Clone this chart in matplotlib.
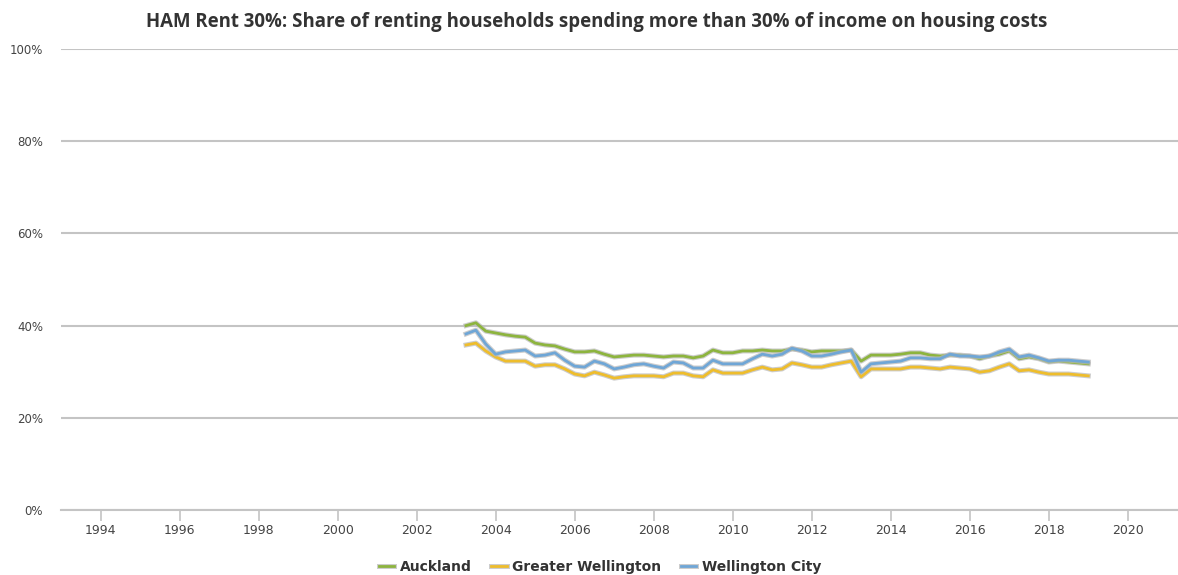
import numpy as np
import matplotlib.pyplot as plt
import matplotlib.patheffects as pe
from matplotlib.ticker import FixedLocator

# Quarterly observations, 2003 Q2 through 2019 Q1
start_year = 2003.25
auckland = [40.0, 40.6, 38.8, 38.4, 38.0, 37.7, 37.5, 36.2, 35.8, 35.6, 34.9, 34.3,
            34.3, 34.5, 33.8, 33.2, 33.4, 33.6, 33.6, 33.4, 33.2, 33.4, 33.4, 33.0,
            33.4, 34.7, 34.1, 34.1, 34.5, 34.5, 34.7, 34.5, 34.5, 34.9, 34.7, 34.3,
            34.5, 34.5, 34.5, 34.7, 32.3, 33.6, 33.6, 33.6, 33.8, 34.1, 34.1, 33.6,
            33.4, 33.6, 33.6, 33.4, 32.8, 33.4, 33.8, 34.5, 32.8, 33.2, 32.8, 32.1,
            32.3, 32.1, 31.9, 31.7]
greater_wellington = [35.8, 36.2, 34.5, 33.2, 32.3, 32.3, 32.3, 31.2, 31.5, 31.5, 30.6, 29.5,
                      29.1, 29.9, 29.3, 28.6, 28.9, 29.1, 29.1, 29.1, 28.9, 29.7, 29.7, 29.1,
                      28.9, 30.4, 29.7, 29.7, 29.7, 30.4, 31.0, 30.4, 30.6, 31.9, 31.5, 31.0,
                      31.0, 31.5, 31.9, 32.3, 28.9, 30.6, 30.6, 30.6, 30.6, 31.0, 31.0, 30.8,
                      30.6, 31.0, 30.8, 30.6, 29.9, 30.2, 31.0, 31.7, 30.2, 30.4, 29.9, 29.5,
                      29.5, 29.5, 29.3, 29.1]
wellington_city = [38.2, 39.0, 36.0, 33.8, 34.3, 34.5, 34.7, 33.4, 33.6, 34.1, 32.5, 31.2,
                   31.0, 32.3, 31.7, 30.6, 31.0, 31.5, 31.7, 31.2, 30.8, 32.1, 31.9, 30.8,
                   30.8, 32.5, 31.7, 31.7, 31.7, 32.8, 33.8, 33.4, 33.8, 35.1, 34.5, 33.4,
                   33.4, 33.8, 34.3, 34.7, 29.9, 31.7, 31.9, 32.1, 32.3, 33.0, 33.0, 32.8,
                   32.8, 33.8, 33.4, 33.4, 33.2, 33.4, 34.3, 34.9, 33.2, 33.6, 33.0, 32.3,
                   32.5, 32.5, 32.3, 32.1]

series_names = ["Auckland", "Greater Wellington", "Wellington City"]
series_colors = ["#8db43e", "#eebd2c", "#6fa6d6"]
x_ticks = list(range(1994, 2021, 2))
y_ticks = [0, 20, 40, 60, 80, 100]

title = "HAM Rent 30%: Share of renting households spending more than 30% of income on housing costs"

years = start_year + 0.25 * np.arange(len(auckland))

fig = plt.figure(figsize=(11.78, 5.75), dpi=100)
W, H = 1178, 575
ax = fig.add_axes([61 / W, 1 - 510 / H, (1178 - 61) / W, (510 - 49) / H])

outline = [pe.Stroke(linewidth=3.6, foreground="#b8b8b8", alpha=0.7), pe.Normal()]
for name, vals, col in zip(series_names, [auckland, greater_wellington, wellington_city], series_colors):
    ax.plot(years, vals, color=col, lw=2.0, label=name, solid_joinstyle="round",
            path_effects=outline)

ax.set_xlim(1993.0, 2021.27)
ax.set_ylim(0, 100)
ax.yaxis.set_major_locator(FixedLocator(y_ticks))
ax.xaxis.set_major_locator(FixedLocator(x_ticks))
ax.set_yticklabels([f"{v}%" for v in y_ticks])
ax.grid(axis="y", color="#c4c4c4", lw=1.5)
ax.set_axisbelow(True)
for s in ["top", "right", "left"]:
    ax.spines[s].set_visible(False)
ax.spines["bottom"].set_color("#c4c4c4")
ax.spines["bottom"].set_linewidth(1.5)
ax.tick_params(axis="y", length=0, pad=13, labelsize=8.5, labelcolor="#444444")
ax.tick_params(axis="x", length=8, width=1.2, color="#c4c4c4", pad=2, labelsize=9, labelcolor="#444444")

fig.text(597 / W, 1 - 22 / H, title, ha="center", va="center", fontsize=13.4,
         fontweight="bold", family="Open Sans", color="#333333")

leg = fig.legend(loc="center", bbox_to_anchor=(600 / W, 1 - 567 / H), ncol=3, frameon=False,
                 handlelength=1.1, handletextpad=0.4, columnspacing=1.4,
                 prop={"weight": "bold", "size": 10})
for t in leg.get_texts():
    t.set_color("#333333")
for h in leg.get_lines():
    h.set_linewidth(2.0)
    h.set_path_effects(outline)

fig.savefig("out.png", dpi=100)
